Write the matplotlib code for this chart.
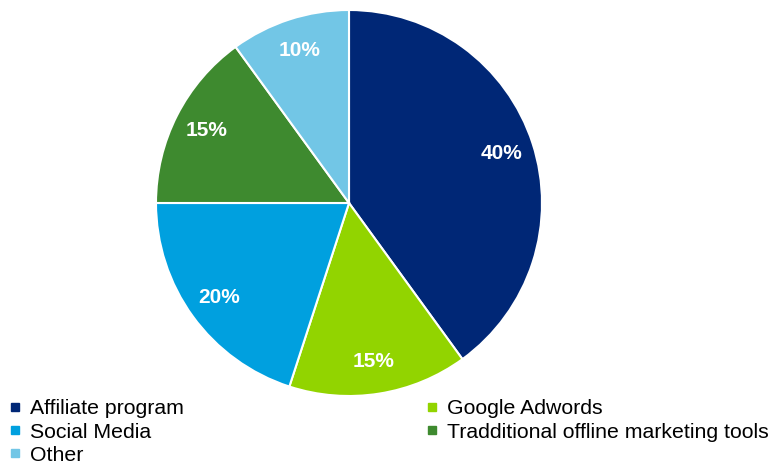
import matplotlib.pyplot as plt
from matplotlib.lines import Line2D

plt.rcParams['font.family'] = ['Liberation Sans', 'DejaVu Sans']

labels = ['Affiliate program', 'Google Adwords', 'Social Media',
          'Tradditional offline marketing tools', 'Other']
values = [40, 15, 20, 15, 10]
colors = ['#002776', '#92D400', '#00A0DF', '#3E8A2F', '#72C6E6']

fig = plt.figure(figsize=(7.7, 4.65), dpi=100)
ax = fig.add_axes([156/770, 69/465, 386/770, 386/465])

wedges, texts, autotexts = ax.pie(values, colors=colors, startangle=90, counterclock=False,
                                  autopct='%d%%', pctdistance=0.83, radius=1,
                                  wedgeprops=dict(edgecolor='white', linewidth=1.5))
for t in autotexts:
    t.set_color('white')
    t.set_fontweight('bold')
    t.set_fontsize(15)
ax.set_xlim(-1, 1)
ax.set_ylim(-1, 1)
ax.set_aspect('equal')

# row-major order in legend -> reorder for matplotlib's column filling
order = [0, 2, 4, 1, 3]
handles = [Line2D([], [], marker='s', linestyle='', color=colors[i], markersize=6) for i in order]
fig.legend(handles, [labels[i] for i in order], ncol=2, loc='upper left',
           bbox_to_anchor=(3/770, 72/465), frameon=False, fontsize=15.3,
           handlelength=0.5, handletextpad=0.45, labelspacing=0.2,
           columnspacing=11.45, borderaxespad=0, borderpad=0.3)

fig.savefig('out.png', dpi=100)
